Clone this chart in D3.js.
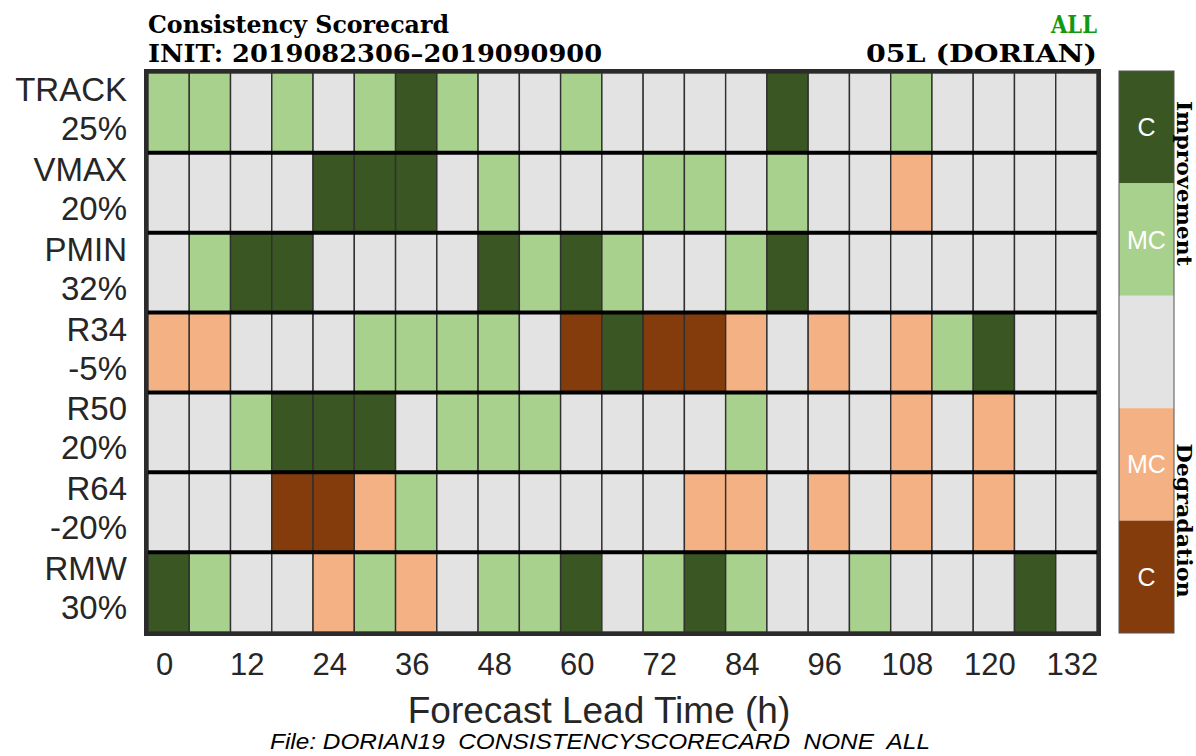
<!DOCTYPE html>
<html>
<head>
<meta charset="utf-8">
<script src="https://cdn.jsdelivr.net/npm/d3@7"></script>
<style>
  html, body { margin: 0; padding: 0; background: #ffffff; }
  svg { display: block; }
</style>
</head>
<body>
<svg id="chart" width="1196" height="756"></svg>
<script>
// Forecast lead times (h), one column each
const leadTimes = [0, 6, 12, 18, 24, 30, 36, 42, 48, 54, 60, 66, 72, 78, 84, 90, 96, 102, 108, 114, 120, 126, 132];
const tickLabels = ["0", "12", "24", "36", "48", "60", "72", "84", "96", "108", "120", "132"];

// Verification metrics and their overall consistency change
const metrics = ["TRACK", "VMAX", "PMIN", "R34", "R50", "R64", "RMW"];
const metricPercents = ["25%", "20%", "32%", "-5%", "20%", "-20%", "30%"];

// Scorecard codes: 2 = consistent improvement, 1 = mostly consistent improvement,
// 0 = neutral, -1 = mostly consistent degradation, -2 = consistent degradation
const track = [1, 1, 0, 1, 0, 1, 2, 1, 0, 0, 1, 0, 0, 0, 0, 2, 0, 0, 1, 0, 0, 0, 0];
const vmax  = [0, 0, 0, 0, 2, 2, 2, 0, 1, 0, 0, 0, 1, 1, 0, 1, 0, 0, -1, 0, 0, 0, 0];
const pmin  = [0, 1, 2, 2, 0, 0, 0, 0, 2, 1, 2, 1, 0, 0, 1, 2, 0, 0, 0, 0, 0, 0, 0];
const r34   = [-1, -1, 0, 0, 0, 1, 1, 1, 1, 0, -2, 2, -2, -2, -1, 0, -1, 0, -1, 1, 2, 0, 0];
const r50   = [0, 0, 1, 2, 2, 2, 0, 1, 1, 1, 0, 0, 0, 0, 1, 0, 0, 0, -1, 0, -1, 0, 0];
const r64   = [0, 0, 0, -2, -2, -1, 1, 0, 0, 0, 0, 0, 0, -1, -1, 0, -1, 0, -1, 0, -1, 0, 0];
const rmw   = [2, 1, 0, 0, -1, 1, -1, 0, 1, 1, 2, 0, 1, 2, 1, 0, 0, 1, 0, 0, 0, 2, 0];

// Colour key
const levels = [2, 1, 0, -1, -2];
const levelLabels = ["C", "MC", "", "MC", "C"];
const levelColors = ["#3a5622", "#a9d18e", "#e3e3e3", "#f4b183", "#843c0c"];

const scoreRows = [track, vmax, pmin, r34, r50, r64, rmw];
const cells = [];
scoreRows.forEach((vals, r) => {
  vals.forEach((v, c) => cells.push({ metric: metrics[r], lead: leadTimes[c], value: v }));
});

const svg = d3.select("#chart");
const sans = "'Liberation Sans', Arial, Helvetica, sans-serif";
const serif = "'DejaVu Serif', 'Century Schoolbook', serif";

const plot = { left: 148, right: 1097, top: 73, bottom: 632 };

const x = d3.scaleBand().domain(leadTimes).range([plot.left, plot.right]).paddingInner(0);
const y = d3.scaleBand().domain(metrics).range([plot.top, plot.bottom]).paddingInner(0);
const color = d3.scaleOrdinal().domain(levels).range(levelColors);

// Cells
svg.append("g").selectAll("rect")
  .data(cells)
  .join("rect")
  .attr("x", d => x(d.lead))
  .attr("y", d => y(d.metric))
  .attr("width", x.bandwidth())
  .attr("height", y.bandwidth())
  .attr("fill", d => color(d.value))
  .attr("stroke", "#303030")
  .attr("stroke-width", 1.4);

// Heavy separators between metric rows
svg.append("g").selectAll("line")
  .data(metrics.slice(1))
  .join("line")
  .attr("x1", plot.left)
  .attr("x2", plot.right)
  .attr("y1", d => y(d))
  .attr("y2", d => y(d))
  .attr("stroke", "#000")
  .attr("stroke-width", 4);

// Frame
svg.append("rect")
  .attr("x", plot.left - 2)
  .attr("y", plot.top - 2)
  .attr("width", plot.right - plot.left + 4)
  .attr("height", plot.bottom - plot.top + 4)
  .attr("fill", "none")
  .attr("stroke", "#2b2b2b")
  .attr("stroke-width", 4);

// Row labels (metric name over percentage)
const rowLab = svg.append("g")
  .attr("font-family", sans)
  .attr("font-size", 33)
  .attr("fill", "#262626")
  .attr("text-anchor", "end");
metrics.forEach((m, i) => {
  const cy = y(m) + y.bandwidth() / 2;
  rowLab.append("text").attr("x", 127).attr("y", cy - 12).text(m);
  rowLab.append("text").attr("x", 127).attr("y", cy + 27).text(metricPercents[i]);
});

// Lead-time axis labels
svg.append("g")
  .attr("font-family", sans)
  .attr("font-size", 31)
  .attr("fill", "#262626")
  .attr("text-anchor", "middle")
  .selectAll("text")
  .data(tickLabels)
  .join("text")
  .attr("x", d => x(+d) + x.bandwidth() / 2 - 4)
  .attr("y", 675)
  .text(d => d);

svg.append("text")
  .attr("x", 599)
  .attr("y", 723)
  .attr("text-anchor", "middle")
  .attr("font-family", sans)
  .attr("font-size", 37)
  .attr("fill", "#262626")
  .text("Forecast Lead Time (h)");

// Titles
const titleSpecs = [
  { text: "Consistency Scorecard", x: 148, y: 33, anchor: "start", width: 301, fill: "#000" },
  { text: "INIT: 2019082306\u20132019090900", x: 148, y: 62, anchor: "start", width: 454, fill: "#000" },
  { text: "ALL", x: 1097, y: 33, anchor: "end", width: 46, fill: "#119911" },
  { text: "05L (DORIAN)", x: 1097, y: 62, anchor: "end", width: 231, fill: "#000" }
];
svg.append("g")
  .attr("font-family", serif)
  .attr("font-weight", "bold")
  .attr("font-size", 24)
  .selectAll("text")
  .data(titleSpecs)
  .join("text")
  .attr("x", d => d.x)
  .attr("y", d => d.y)
  .attr("text-anchor", d => d.anchor)
  .attr("fill", d => d.fill)
  .attr("textLength", d => d.width)
  .attr("lengthAdjust", "spacingAndGlyphs")
  .text(d => d.text);

// Colour key
const ly = d3.scaleBand().domain(levels).range([71, 633]);
const legend = svg.append("g");
legend.selectAll("rect")
  .data(levels)
  .join("rect")
  .attr("x", 1119)
  .attr("y", d => ly(d))
  .attr("width", 55)
  .attr("height", ly.bandwidth())
  .attr("fill", d => color(d));
legend.append("rect")
  .attr("x", 1119).attr("y", 71).attr("width", 55).attr("height", 562)
  .attr("fill", "none").attr("stroke", "#555").attr("stroke-width", 1);
legend.selectAll("text")
  .data(levels)
  .join("text")
  .attr("x", 1146.5)
  .attr("y", d => ly(d) + ly.bandwidth() / 2 + 9)
  .attr("text-anchor", "middle")
  .attr("font-family", sans)
  .attr("font-size", 25)
  .attr("fill", "#ffffff")
  .text((d, i) => levelLabels[i]);

const sideLabels = [
  { text: "Improvement", y: ly(1), width: 165 },
  { text: "Degradation", y: ly(-2), width: 154 }
];
legend.selectAll("text.side")
  .data(sideLabels)
  .join("text")
  .attr("class", "side")
  .attr("transform", d => `translate(1177, ${d.y}) rotate(90)`)
  .attr("text-anchor", "middle")
  .attr("font-family", serif)
  .attr("font-weight", "bold")
  .attr("font-size", 20)
  .attr("fill", "#000")
  .attr("textLength", d => d.width)
  .attr("lengthAdjust", "spacingAndGlyphs")
  .text(d => d.text);

// Source file note
svg.append("text")
  .attr("x", 600)
  .attr("y", 749)
  .attr("text-anchor", "middle")
  .attr("font-family", "'Liberation Sans Narrow', 'Liberation Sans', sans-serif")
  .attr("font-style", "italic")
  .attr("font-size", 22)
  .attr("fill", "#000")
  .attr("textLength", 660)
  .attr("lengthAdjust", "spacingAndGlyphs")
  .style("white-space", "pre")
  .text("File: DORIAN19  CONSISTENCYSCORECARD  NONE  ALL");
</script>
</body>
</html>
